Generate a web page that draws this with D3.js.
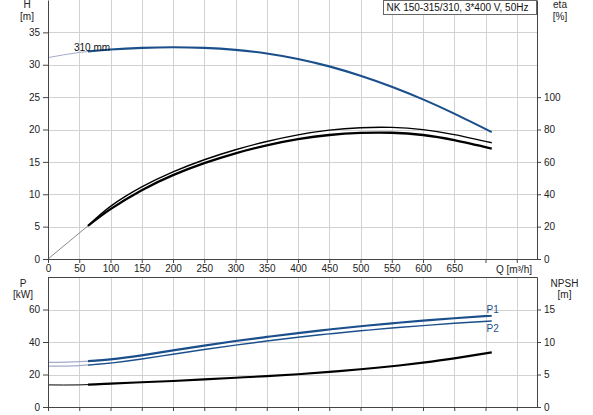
<!DOCTYPE html>
<html><head><meta charset="utf-8">
<script src="https://cdn.jsdelivr.net/npm/d3@7"></script>
<style>
html,body{margin:0;padding:0;background:#fff;}
svg{display:block;font-family:Arial,"Liberation Sans",sans-serif;}
</style></head>
<body>
<svg id="c" width="593" height="415"></svg>
<script>
// ---- data ----
const title = "NK 150-315/310, 3*400 V, 50Hz";
const flow = [0, 50, 100, 150, 200, 250, 300, 350, 400, 450, 500, 550, 600, 650, 710];
const head = [31.1, 31.9, 32.35, 32.6, 32.7, 32.6, 32.3, 31.75, 30.9, 29.75, 28.3, 26.6, 24.65, 22.45, 19.6];
const flowEta = [0, 64, 100, 150, 200, 250, 300, 350, 400, 450, 500, 550, 600, 650, 710];
const etaPump = [0, 20.5, 32.5, 44.5, 53.8, 61.3, 67.5, 72.6, 76.7, 79.6, 81.1, 81.3, 79.9, 76.8, 71.8];
const etaTotal = [0, 20.5, 30.8, 42.5, 51.8, 59.2, 65.3, 70.2, 74.0, 76.6, 77.9, 78.0, 76.6, 73.4, 68.2];
const powerP1 = [27.4, 27.9, 29.3, 31.8, 34.8, 37.8, 40.6, 43.1, 45.5, 47.7, 49.7, 51.5, 53.1, 54.6, 56.2];
const powerP2 = [25.1, 25.5, 27.0, 29.5, 32.5, 35.4, 38.1, 40.6, 42.9, 45.0, 46.9, 48.6, 50.1, 51.5, 52.9];
const npsh = [3.4, 3.4, 3.6, 3.8, 4.0, 4.25, 4.5, 4.75, 5.05, 5.4, 5.8, 6.27, 6.83, 7.48, 8.4];
const flowTicks = [0,50,100,150,200,250,300,350,400,450,500,550,600,650,700,750];
const flowLabels = ["0","50","100","150","200","250","300","350","400","450","500","550","600","650","",""];
const headTicks = [0,5,10,15,20,25,30,35];
const etaTicks = [0,20,40,60,80,100];
const powerTicks = [0,20,40,60];
const npshTicks = [0,5,10,15];
const opStart = 64; // start of the operating range

// ---- layout ----
const svg = d3.select("#c");
const L = 48, R = 537;
const x = d3.scaleLinear().domain([0, 782.4]).range([L, R]);
const yH = d3.scaleLinear().domain([0, 40]).range([259, 0]);
const yEta = d3.scaleLinear().domain([0, 160]).range([259, 0]);
const yP = d3.scaleLinear().domain([0, 80]).range([407, 277]);
const yN = d3.scaleLinear().domain([0, 20]).range([407, 277]);

const gridColor = "#d2d2d2", axisColor = "#444", textColor = "#222";
const blue = "#1b4f8c", lightBlue = "#a4abc8";
const curve = d3.curveNatural;

// grids
const grid = svg.append("g").attr("stroke", gridColor).attr("stroke-width", 1);
flowTicks.filter(d => d > 0).forEach(q => {
  grid.append("line").attr("x1", Math.round(x(q)) + 0.5).attr("x2", Math.round(x(q)) + 0.5).attr("y1", 0).attr("y2", yH(0));
  grid.append("line").attr("x1", Math.round(x(q)) + 0.5).attr("x2", Math.round(x(q)) + 0.5).attr("y1", yP(80)).attr("y2", yP(0));
});
headTicks.filter(d => d > 0).forEach(h => {
  grid.append("line").attr("x1", L).attr("x2", R).attr("y1", Math.round(yH(h)) + 0.5).attr("y2", Math.round(yH(h)) + 0.5);
});
powerTicks.filter(d => d > 0).forEach(p => {
  grid.append("line").attr("x1", L).attr("x2", R).attr("y1", Math.round(yP(p)) + 0.5).attr("y2", Math.round(yP(p)) + 0.5);
});

// clip for operating range
const defs = svg.append("defs");
defs.append("clipPath").attr("id", "op").append("rect")
  .attr("x", x(opStart)).attr("y", 0).attr("width", 600).attr("height", 415);

function drawCurve(xs, ys, yScale, thinColor, thinW, color, w) {
  const pts = xs.map((q, i) => [q, ys[i]]);
  const line = d3.line().x(d => x(d[0])).y(d => yScale(d[1])).curve(curve);
  const ext = pts.filter(d => d[0] <= opStart + 40);
  svg.append("path").attr("d", line(ext)).attr("fill", "none")
    .attr("stroke", thinColor).attr("stroke-width", thinW);
  svg.append("path").attr("d", line(pts)).attr("fill", "none")
    .attr("stroke", color).attr("stroke-width", w).attr("clip-path", "url(#op)")
    .attr("stroke-linejoin", "round");
}

// eta extension (single line from origin)
svg.append("path").attr("d", d3.line().x(d => x(d[0])).y(d => yEta(d[1]))([[0, 0], [opStart, etaPump[1]]]))
  .attr("stroke", "#8a8a8a").attr("stroke-width", 1).attr("fill", "none");
function drawOp(xs, ys, yScale, color, w) {
  const pts = xs.map((q, i) => [q, ys[i]]).filter(d => d[0] >= opStart);
  const line = d3.line().x(d => x(d[0])).y(d => yScale(d[1])).curve(curve);
  svg.append("path").attr("d", line(pts)).attr("fill", "none").attr("stroke", color).attr("stroke-width", w);
}
drawOp(flowEta, etaPump, yEta, "#000", 1.4);
drawOp(flowEta, etaTotal, yEta, "#000", 2.3);

drawCurve(flow, head, yH, lightBlue, 1, blue, 2.1);
drawCurve(flow, powerP2, yP, lightBlue, 1.3, blue, 1.4);
drawCurve(flow, powerP1, yP, lightBlue, 1.3, blue, 2.2);
drawCurve(flow, npsh, yN, "#000", 1, "#000", 2.1);

// axes
function styleAxis(g) {
  g.selectAll("path,line").attr("stroke", axisColor);
  g.selectAll("text").attr("fill", textColor).attr("font-size", 10).attr("font-family", "Arial, 'Liberation Sans', sans-serif");
}
svg.append("g").attr("transform", `translate(${L},0)`)
  .call(d3.axisLeft(yH).tickValues(headTicks).tickSize(5).tickSizeOuter(0).tickPadding(3)).call(styleAxis);
svg.append("g").attr("transform", `translate(${R},0)`)
  .call(d3.axisRight(yEta).tickValues(etaTicks).tickSize(4).tickSizeOuter(0).tickPadding(3)).call(styleAxis);
svg.append("g").attr("transform", `translate(0,${yH(0)})`)
  .call(d3.axisBottom(x).tickValues(flowTicks).tickSize(4).tickSizeOuter(0).tickPadding(2)
    .tickFormat((d, i) => flowLabels[i])).call(styleAxis);
svg.append("g").attr("transform", `translate(0,${yP(0)})`)
  .call(d3.axisBottom(x).tickValues(flowTicks).tickSize(4).tickSizeOuter(0).tickFormat(() => "")).call(styleAxis);
svg.append("g").attr("transform", `translate(${L},0)`)
  .call(d3.axisLeft(yP).tickValues(powerTicks).tickSize(5).tickSizeOuter(0).tickPadding(3)).call(styleAxis);
svg.append("g").attr("transform", `translate(${R},0)`)
  .call(d3.axisRight(yN).tickValues(npshTicks).tickSize(4).tickSizeOuter(0).tickPadding(3)).call(styleAxis);
// lower plot top border
svg.append("line").attr("x1", L).attr("x2", R + 0.5).attr("y1", yP(80) + 0.5).attr("y2", yP(80) + 0.5)
  .attr("stroke", axisColor);

// text labels
function txt(s, xx, yy, anchor, color) {
  svg.append("text").attr("x", xx).attr("y", yy).attr("text-anchor", anchor || "middle")
    .attr("font-size", 10).attr("fill", color || textColor).text(s);
}
txt("H", 27, 8);
txt("[m]", 27, 20);
txt("eta", 560, 8);
txt("[%]", 560, 20);
txt("P", 23, 286.5);
txt("[kW]", 23, 298);
txt("NPSH", 564.5, 286.5);
txt("[m]", 564.5, 298);
txt("Q [m³/h]", 532, 273, "end");
txt("310 mm", 74, 51, "start", "#111");
txt("P1", 486.5, 313, "start", blue);
txt("P2", 486.5, 332, "start", blue);

// title box
svg.append("rect").attr("x", 383.5).attr("y", 0.5).attr("width", 153).attr("height", 14)
  .attr("fill", "#fff").attr("stroke", "#666");
txt(title, 386.5, 10.5, "start", "#111");
</script>
</body></html>
